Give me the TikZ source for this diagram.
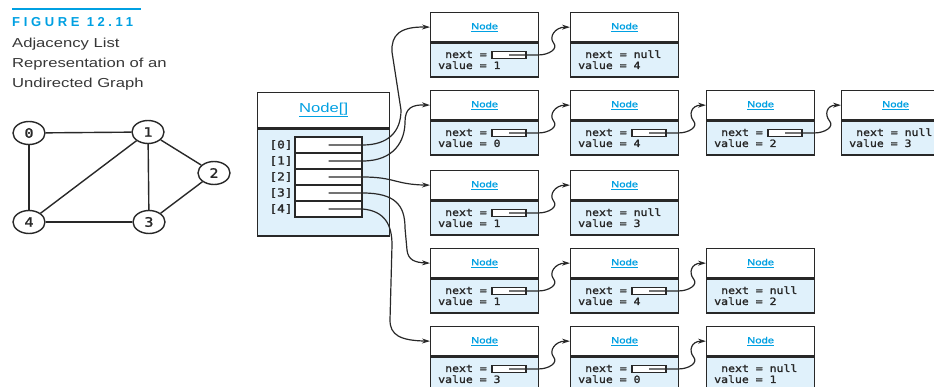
\documentclass[tikz,border=0pt]{standalone}
\usepackage{fontspec}
\setmainfont{Liberation Sans}
\newfontfamily\capfont[FakeStretch=1.28]{Liberation Sans}
\newfontfamily\headfont[FakeStretch=1.25,FakeBold=1.5]{Liberation Sans}
\newfontfamily\titlefont[LetterSpace=28]{Liberation Sans}
\newfontfamily\codefont[FakeStretch=1.15,FakeBold=1.6]{DejaVu Sans Mono}
\usetikzlibrary{shapes.geometric,arrows.meta,calc}

\definecolor{ink}{RGB}{40,40,40}
\definecolor{paleblue}{RGB}{224,241,251}
\definecolor{linkblue}{RGB}{0,160,226}
\definecolor{captext}{RGB}{55,55,55}

\tikzset{
  hdr/.style={draw=ink, line width=1.3pt, fill=white, minimum width=108pt,
    minimum height=29pt, inner sep=0pt, anchor=north west, text=linkblue,
    font=\headfont\fontsize{9}{10}\selectfont},
  bdy/.style={draw=ink, line width=1.3pt, fill=paleblue, minimum width=108pt,
    minimum height=34pt, inner sep=0pt, anchor=north},
  ptr/.style={draw=ink, line width=1.1pt, fill=white, minimum width=34pt,
    minimum height=7pt, inner sep=0pt},
  code/.style={anchor=base west, inner sep=0pt, text=ink,
    font=\codefont\fontsize{10}{12}\selectfont},
  cell/.style={draw=ink, line width=1.1pt, fill=white, minimum width=67pt,
    minimum height=16pt, inner sep=0pt},
  idx/.style={inner sep=0pt, text=ink, font=\codefont\fontsize{11}{13}\selectfont},
  conn/.style={draw=ink, line width=1.2pt, -{Stealth[length=8pt,width=5pt]}},
  gv/.style={ellipse, draw=ink, line width=1.4pt, fill=white, minimum width=32pt,
    minimum height=23pt, inner sep=0pt, text=ink,
    font=\codefont\fontsize{13}{15}\selectfont},
  gedge/.style={draw=ink, line width=1.4pt},
  caption/.style={anchor=base west, inner sep=0pt, text=captext,
    font=\capfont\fontsize{13}{15}\selectfont}
}

% one list object: header with the class name, body with its fields
\newcommand\objhead[3]{%
  \node[hdr] (#1h) at (#2,#3) {\underline{Node}};
  \node[bdy] (#1b) at (#1h.south) {};}
\newcommand\ptrobj[4]{\objhead{#1}{#2}{#3}%
  \node[code] (#1n) at ($(#1b.west)+(15,-2)$) {next =};
  \node[code] (#1v) at ($(#1b.west)+(8,9)$) {value = #4};
  \node[ptr] (#1p) at ($(#1b.west)+(79,-5)$) {};}
\newcommand\nullobj[4]{\objhead{#1}{#2}{#3}%
  \node[code] (#1n) at ($(#1b.west)+(15,-2)$) {next = null};
  \node[code] (#1v) at ($(#1b.west)+(8,9)$) {value = #4};}
% reference from the next field of #1 to object #2
\newcommand\linkto[2]{%
  \draw[conn] (#1p.center) -- ($(#1p.east)+(12,0)$)
    .. controls ($(#1p.east)+(22,0)$) and ($(#1p.east)+(32,-6)$) .. ($(#1p.east)+(27,-12)$)
    .. controls ($(#1p.east)+(22,-18)$) and ($(#2h.west)+(-15,0)$) .. (#2h.west);}

\begin{document}
\begin{tikzpicture}[x=1pt,y=-1pt]
\useasboundingbox (0,0) rectangle (934,387);
\clip (0,0) rectangle (934,387);

% caption
\node[anchor=base west, inner sep=0pt, text=linkblue,
  font=\titlefont\bfseries\fontsize{13}{15}\selectfont] (fig) at (12,27) {FIGURE 12.11};
\draw[linkblue, line width=2pt] ($(fig.base west)+(0,-18)$) -- ++(129,0);
\node[caption] (cap1) at (12,47.5) {Adjacency List};
\node[caption] (cap2) at (12,67.5) {Representation of an};
\node[caption] (cap3) at (12,87.5) {Undirected Graph};

% the undirected graph
\node[gv] (g0) at (29,133) {0};
\node[gv] (g1) at (148,132) {1};
\node[gv] (g2) at (214,173) {2};
\node[gv] (g3) at (149,222) {3};
\node[gv] (g4) at (29,222) {4};
\draw[gedge] (g0) -- (g1);
\draw[gedge] (g0) -- (g4);
\draw[gedge] (g1) -- (g4);
\draw[gedge] (g1) -- (g3);
\draw[gedge] (g1) -- (g2);
\draw[gedge] (g2) -- (g3);
\draw[gedge] (g4) -- (g3);

% the array of list heads
\node[hdr, minimum width=132pt, minimum height=35pt,
  font=\capfont\fontsize{13}{15}\selectfont] (arrh) at (257,92) {\underline{Node[]}};
\node[bdy, minimum width=132pt, minimum height=107pt] (arrb) at (arrh.south) {};
\foreach \i in {0,...,4} {
  \node[cell] (c\i) at (328.5,{145+16*\i}) {};
  \node[idx] (l\i) at (281,{145+16*\i}) {[\i]};
}

% adjacency lists
\ptrobj{aA}{430}{12}{1}  \nullobj{aB}{570}{12}{4}
\ptrobj{bA}{430}{90}{0}  \ptrobj{bB}{570}{90}{4}
\ptrobj{bC}{706}{90}{2}  \nullobj{bD}{841}{90}{3}
\ptrobj{cA}{430}{170}{1} \nullobj{cB}{570}{170}{3}
\ptrobj{dA}{430}{248}{1} \ptrobj{dB}{570}{248}{4} \nullobj{dC}{706}{248}{2}
\ptrobj{eA}{430}{326}{3} \ptrobj{eB}{570}{326}{0} \nullobj{eC}{706}{326}{1}

\linkto{aA}{aB}
\linkto{bA}{bB} \linkto{bB}{bC} \linkto{bC}{bD}
\linkto{cA}{cB}
\linkto{dA}{dB} \linkto{dB}{dC}
\linkto{eA}{eB} \linkto{eB}{eC}

% references from the array cells to the first objects
\draw[conn] (c0.center) -- (c0.east)
  .. controls (388,145) and (401,132) .. (401,110) -- (392,52)
  .. controls (391,35) and (400,26.5) .. (aAh.west);
\draw[conn] (c1.center) -- (c1.east)
  .. controls (395,161) and (405,140) .. (405,122)
  .. controls (405,108) and (412,104.5) .. (bAh.west);
\draw[conn] (c2.center) -- (c2.east)
  .. controls (395,177) and (395,184.5) .. (cAh.west);
\draw[conn] (c3.center) -- (c3.east)
  .. controls (395,193) and (405,205) .. (405,228) -- (407,250)
  .. controls (408,260) and (415,262.5) .. (dAh.west);
\draw[conn] (c4.center) -- (c4.east)
  .. controls (385,211) and (392,225) .. (392,245) -- (390,320)
  .. controls (390,335) and (400,340.5) .. (eAh.west);
\end{tikzpicture}
\end{document}
